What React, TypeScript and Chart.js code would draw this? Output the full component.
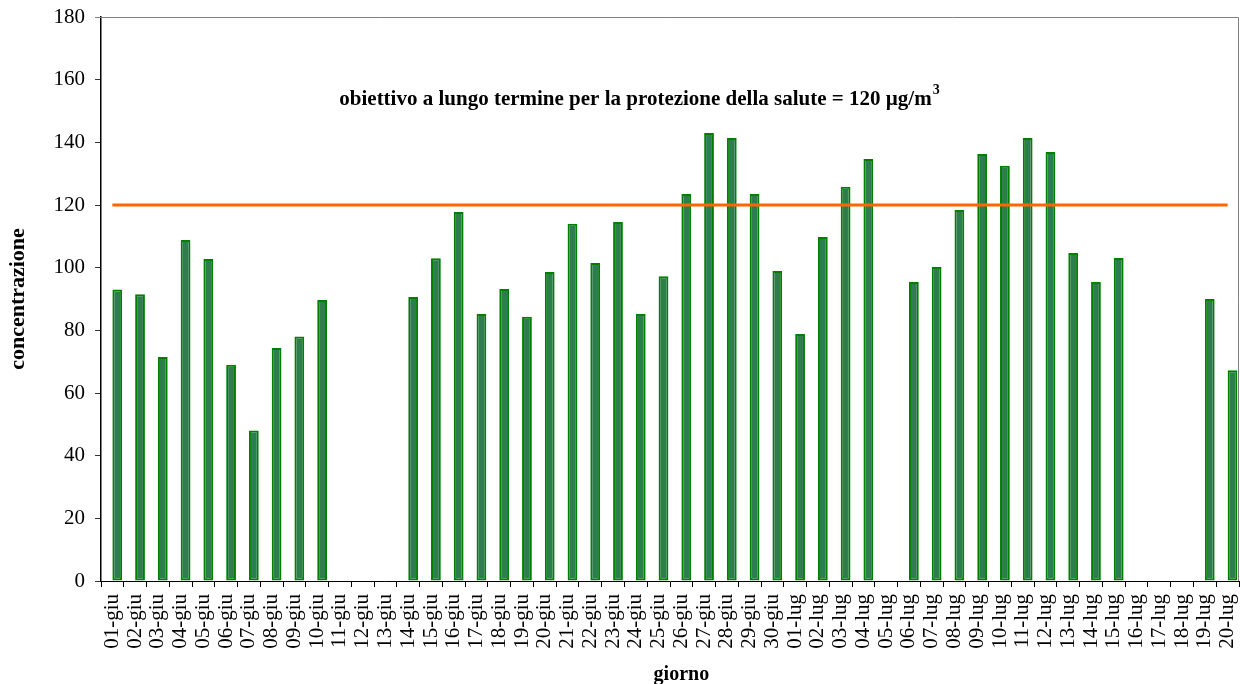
import React, { useEffect, useRef } from "react";
import { Chart, registerables } from "chart.js";

Chart.register(...registerables);

const days: string[] = [
  "01-giu", "02-giu", "03-giu", "04-giu", "05-giu", "06-giu", "07-giu", "08-giu", "09-giu", "10-giu",
  "11-giu", "12-giu", "13-giu", "14-giu", "15-giu", "16-giu", "17-giu", "18-giu", "19-giu", "20-giu",
  "21-giu", "22-giu", "23-giu", "24-giu", "25-giu", "26-giu", "27-giu", "28-giu", "29-giu", "30-giu",
  "01-lug", "02-lug", "03-lug", "04-lug", "05-lug", "06-lug", "07-lug", "08-lug", "09-lug", "10-lug",
  "11-lug", "12-lug", "13-lug", "14-lug", "15-lug", "16-lug", "17-lug", "18-lug", "19-lug", "20-lug",
];

const concentration: (number | null)[] = [
  93, 91.5, 71.5, 108.8, 102.8, 69, 48, 74.4, 78, 89.7,
  null, null, null, 90.6, 103, 117.8, 85.2, 93.2, 84.3, 98.6,
  114, 101.5, 114.6, 85.2, 97.3, 123.5, 143, 141.4, 123.5, 98.9,
  78.8, 109.8, 125.8, 134.7, null, 95.4, 100.2, 118.4, 136.3, 132.5,
  141.4, 136.9, 104.7, 95.4, 103.1, null, null, null, 90, 67.3,
];

const emptySeries: (number | null)[] = days.map(() => null);

const LIMIT = 120;
const limitLabel = "obiettivo a lungo termine per la protezione della salute = 120 µg/m";
const limitSup = "3";
const xTitle = "giorno";
const yTitle = "concentrazione";

const yTicks = { min: 0, max: 180, step: 20 };

const FONT = "'Liberation Serif', 'Times New Roman', serif";

const annotationPlugin = {
  id: "limitAnnotation",
  afterDatasetsDraw(chart: any) {
    const { ctx, chartArea, scales } = chart;
    const x = chartArea.left + chartArea.width * 0.2094;
    const y = scales.y.getPixelForValue(151.8);
    ctx.save();
    ctx.fillStyle = "#000";
    ctx.textBaseline = "alphabetic";
    ctx.textAlign = "left";
    ctx.font = `bold 21px ${FONT}`;
    ctx.fillText(limitLabel, x, y);
    const w = ctx.measureText(limitLabel).width;
    ctx.font = `bold 14px ${FONT}`;
    ctx.fillText(limitSup, x + w + 1, y - 11);
    ctx.restore();
  },
};

const xTitlePlugin = {
  id: "xTitle",
  afterDraw(chart: any) {
    const { ctx, chartArea } = chart;
    ctx.save();
    ctx.fillStyle = "#000";
    ctx.textAlign = "center";
    ctx.textBaseline = "alphabetic";
    ctx.font = `bold 20px ${FONT}`;
    ctx.fillText(xTitle, chartArea.left + chartArea.width * 0.51, chart.height - 4);
    ctx.restore();
  },
};

const frameBorderPlugin = {
  id: "frameBorder",
  afterDraw(chart: any) {
    const { ctx, chartArea } = chart;
    ctx.save();
    ctx.strokeStyle = "#808080";
    ctx.lineWidth = 1;
    ctx.beginPath();
    ctx.moveTo(chartArea.left - 6, chartArea.top + 0.5);
    ctx.lineTo(chartArea.right - 0.5, chartArea.top + 0.5);
    ctx.lineTo(chartArea.right - 0.5, chartArea.bottom);
    ctx.stroke();
    ctx.restore();
  },
};

export default function App() {
  const ref = useRef<HTMLCanvasElement | null>(null);

  useEffect(() => {
    document.body.style.margin = "0";
    if (!ref.current) return;
    Chart.defaults.font.family = FONT;
    const chart = new Chart(ref.current, {
      type: "bar",
      data: {
        labels: days,
        datasets: [
          {
            type: "line" as const,
            label: "limite",
            data: days.map(() => LIMIT),
            borderColor: "#FF6600",
            borderWidth: 3,
            pointRadius: 0,
            fill: false,
            order: 0,
          },
          {
            label: "vuoto",
            data: emptySeries,
            backgroundColor: "transparent",
            order: 1,
          },
          {
            label: "concentrazione",
            data: concentration,
            backgroundColor: "#2E7D4F",
            borderColor: "#008000",
            borderWidth: 2,
            borderSkipped: false,
            order: 1,
          },
        ],
      },
      options: {
        responsive: false,
        animation: false,
        layout: { padding: { top: 17, right: 1, left: 0, bottom: 0 } },
        plugins: {
          legend: { display: false },
          tooltip: { enabled: false },
          title: { display: false },
        },
        datasets: {
          bar: { categoryPercentage: 0.86, barPercentage: 1 },
        },
        scales: {
          x: {
            grid: {
              offset: true,
              drawOnChartArea: false,
              drawTicks: true,
              tickLength: 6,
              color: "#000",
            },
            border: { display: true, color: "#000", width: 1 },
            ticks: {
              autoSkip: false,
              minRotation: 90,
              maxRotation: 90,
              padding: 7,
              color: "#000",
              font: { size: 21, family: FONT },
            },
            title: { display: false },
            afterFit(scale: any) {
              scale.height = 103;
              scale.paddingLeft = 0;
              scale.paddingRight = 0;
            },
          },
          y: {
            min: yTicks.min,
            max: yTicks.max,
            grid: {
              drawOnChartArea: false,
              drawTicks: true,
              tickLength: 6,
              color: "#333",
            },
            border: { display: true, color: "#000", width: 1.5 },
            ticks: {
              stepSize: yTicks.step,
              padding: 10,
              color: "#000",
              font: { size: 21, family: FONT },
            },
            title: {
              display: true,
              text: yTitle,
              color: "#000",
              font: { size: 22, weight: "bold", family: FONT },
              padding: { top: 5, bottom: 0 },
            },
            afterFit(scale: any) {
              scale.width = 101;
              scale.paddingTop = 0;
              scale.paddingBottom = 0;
            },
          },
        },
      },
      plugins: [annotationPlugin, xTitlePlugin, frameBorderPlugin],
    } as any);
    return () => chart.destroy();
  }, []);

  return <canvas ref={ref} width={1240} height={684} style={{ display: "block" }} />;
}
